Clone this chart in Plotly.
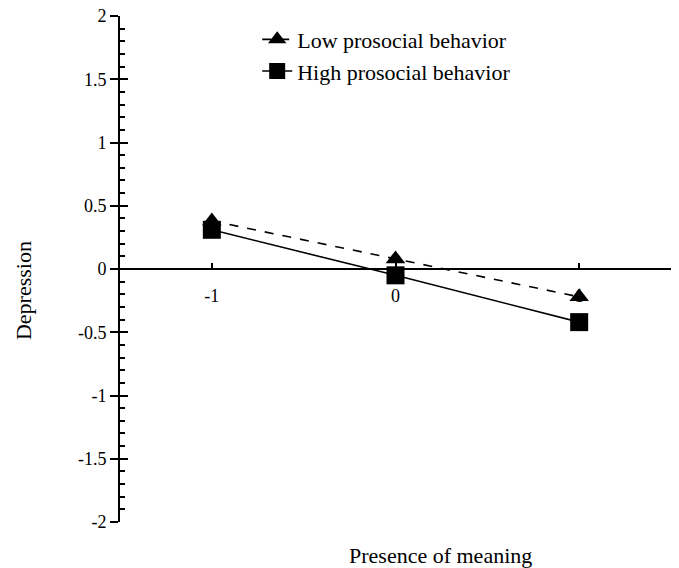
import plotly.graph_objects as go

x_vals = [-1, 0, 1]
low_prosocial = [0.38, 0.08, -0.22]
high_prosocial = [0.31, -0.05, -0.42]

y_tickvals = [-2, -1.5, -1, -0.5, 0, 0.5, 1, 1.5, 2]
y_ticktext = ["-2", "-1.5", "-1", "-0.5", "0", "0.5", "1", "1.5", "2"]
x_tickvals = [-1, 0, 1, 1.5]
x_ticktext = ["-1", "0", "1", ""]

FONT = "Liberation Serif"

fig = go.Figure()
fig.add_trace(go.Scatter(
    x=x_vals, y=low_prosocial, name="Low prosocial behavior",
    mode="lines+markers",
    line=dict(color="black", width=1.6, dash="dash"),
    marker=dict(symbol="triangle-up", size=17, color="black"),
))
fig.add_trace(go.Scatter(
    x=x_vals, y=high_prosocial, name="High prosocial behavior",
    mode="lines+markers",
    line=dict(color="black", width=1.6),
    marker=dict(symbol="square", size=18, color="black"),
    yaxis="y2",
))

fig.update_layout(
    width=671, height=560,
    margin=dict(l=112, r=8, t=8, b=46, autoexpand=False),
    plot_bgcolor="white", paper_bgcolor="white",
    font=dict(family=FONT, color="black", size=18),
    showlegend=True,
    legend=dict(x=0.249, y=0.995, xanchor="left", yanchor="top",
                font=dict(family=FONT, size=22), bgcolor="rgba(0,0,0,0)"),
    xaxis=dict(range=[-1.5, 1.5], anchor="free", position=0.5,
               showline=True, linewidth=2, linecolor="black",
               ticks="inside", ticklen=5, tickwidth=2, tickcolor="black",
               tickmode="array", tickvals=x_tickvals, ticktext=x_ticktext,
               ticklabelstandoff=10, automargin=False,
               tickfont=dict(family=FONT, size=18),
               showgrid=False, zeroline=False),
    yaxis=dict(range=[-2, 2], showline=True, linewidth=2, linecolor="black",
               ticks="outside", ticklen=8, tickwidth=2, tickcolor="black",
               tickmode="array", tickvals=y_tickvals, ticktext=y_ticktext,
               tickfont=dict(family=FONT, size=18),
               ticklabeloverflow="allow", automargin=False,
               showgrid=False, zeroline=False),
    yaxis2=dict(range=[-2, 2], overlaying="y", side="left", anchor="x",
                showline=False, showticklabels=False, automargin=False,
                ticks="inside", ticklen=8, tickwidth=2, tickcolor="black",
                tickmode="linear", tick0=0, dtick=0.5,
                minor=dict(ticks="inside", ticklen=5, tickwidth=2,
                           tickcolor="black", tick0=0, dtick=0.1),
                showgrid=False, zeroline=False),
    annotations=[
        dict(text="Presence of meaning", x=0.581, y=-0.067, xref="paper", yref="paper",
             xanchor="center", yanchor="middle", showarrow=False,
             font=dict(family=FONT, size=22)),
        dict(text="Depression", x=-0.176, y=0.4565, xref="paper", yref="paper",
             xanchor="center", yanchor="middle", showarrow=False, textangle=-90,
             font=dict(family=FONT, size=22)),
    ],
)

fig.write_html("out.html")
